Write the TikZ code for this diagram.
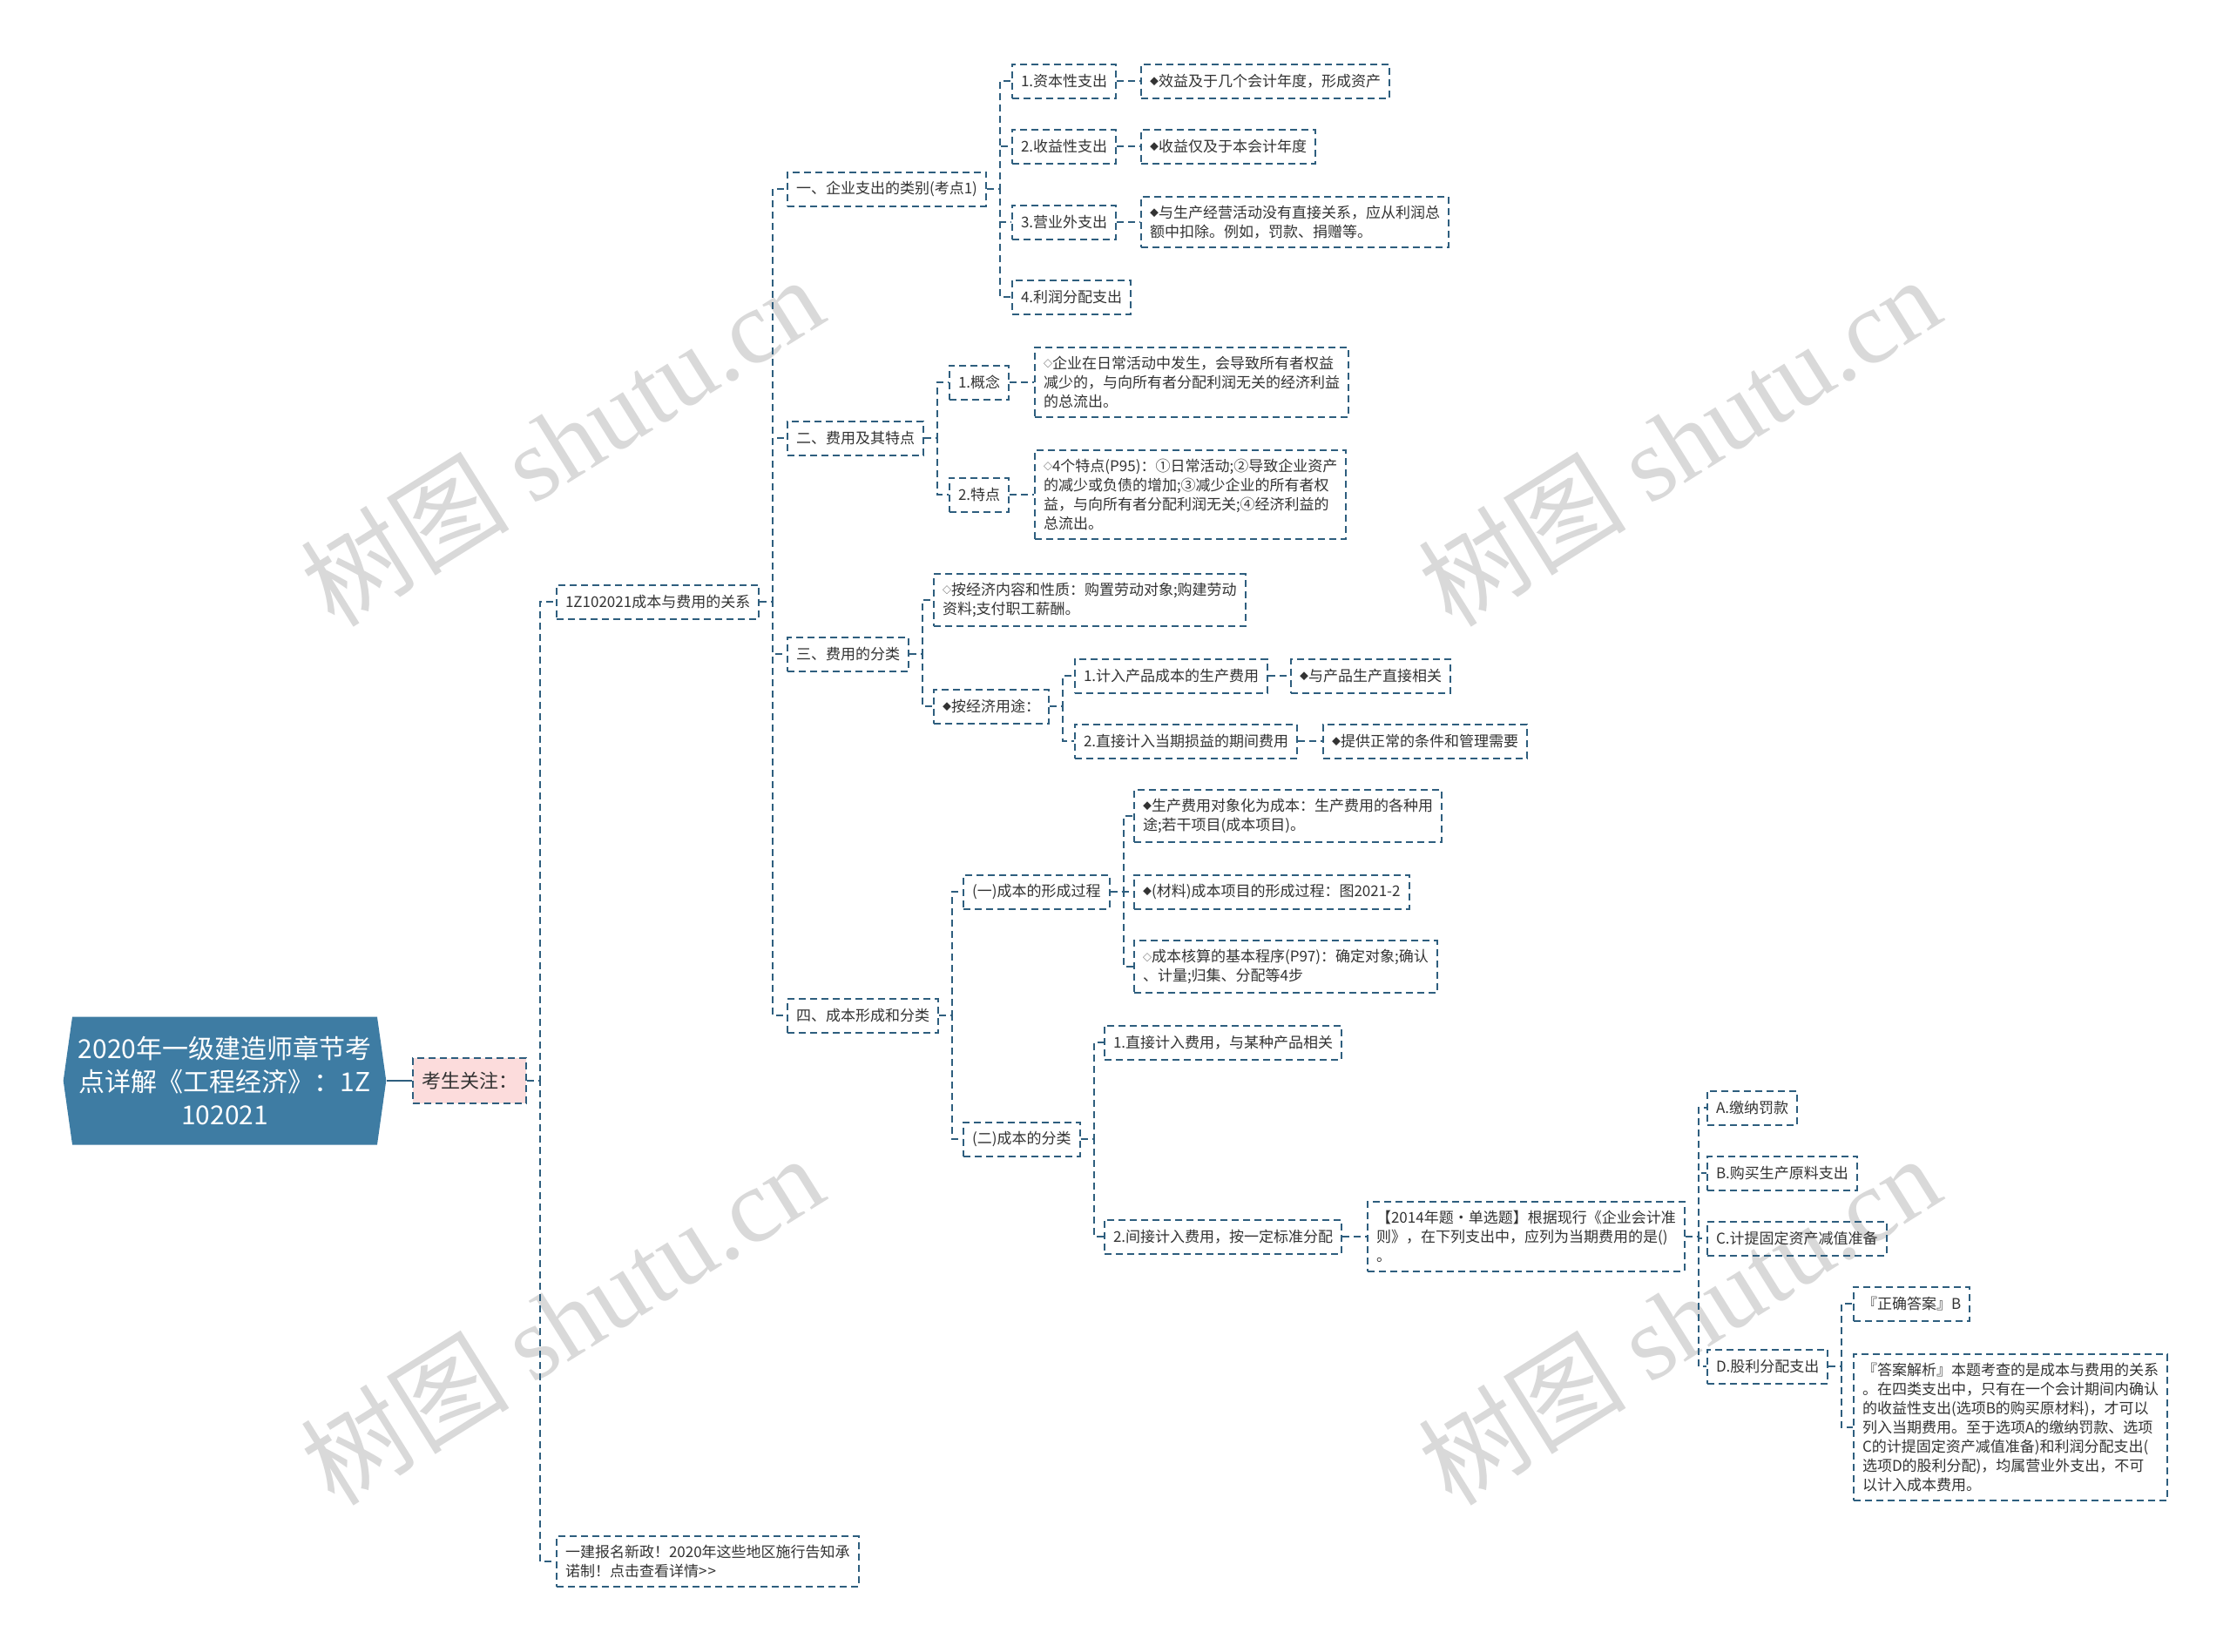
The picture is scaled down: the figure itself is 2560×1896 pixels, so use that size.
\documentclass[tikz,border=0pt]{standalone}
\usepackage{fontspec}
\setmainfont{Noto Sans CJK SC}
\newfontfamily\wmfont{Liberation Serif}
\usetikzlibrary{shapes.symbols}
\definecolor{cline}{HTML}{2E5E7E}
\definecolor{ctext}{HTML}{333333}
\definecolor{croot}{HTML}{3E7CA3}
\definecolor{cpink}{HTML}{FCDCDC}
\definecolor{cmark}{HTML}{D9D9D9}
\newcommand\dfill{\raisebox{0.8pt}{\fontsize{5}{5}\selectfont ◆}}
\newcommand\dopen{\raisebox{0.8pt}{\fontsize{5}{5}\selectfont ◇}}
\tikzset{
  every picture/.style={x=0.5pt, y=-0.5pt, line width=1pt},
  box/.style={draw=cline, dash pattern=on 4pt off 2.5pt, anchor=west, align=left, text=ctext,
    inner xsep=5pt, inner ysep=5pt, minimum height=19.5pt, font=\fontsize{8.5}{11}\selectfont},
  link/.style={draw=cline, dash pattern=on 4pt off 2.5pt},
  root/.style={shape=signal, signal to=west and east, signal pointer angle=164, fill=croot,
    text=white, align=center, minimum width=180pt, minimum height=73.5pt, font=\fontsize{15}{19}\selectfont},
  wmark/.style={text=cmark, rotate=32, font=\fontsize{60}{60}\selectfont},
}
\begin{document}
\begin{tikzpicture}
  \useasboundingbox (0,0) rectangle (2560,1896);
  \fill[white] (0,0) rectangle (2560,1896);
  % watermarks
  \foreach \wx/\wy [count=\i] in {645/506, 1927/506, 645/1515, 1927/1515}
    \node[wmark] (wm\i) at (\wx,\wy) {树图 {\wmfont shutu.cn}};
  % root and first level
  \node[root] (root) at (258,1241) {2020年一级建造师章节考\\点详解《工程经济》：1Z\\102021};
  \node[box, fill=cpink, minimum height=26pt, font=\fontsize{11}{13}\selectfont] (n0) at (473,1241) {考生关注：};
  \node[box] (m1) at (638,691) {1Z102021成本与费用的关系};
  \node[box] (m2) at (638,1793) {一建报名新政！2020年这些地区施行告知承\\诺制！点击查看详情>\kern0.6pt>};
  % four sections
  \node[box] (a1) at (903,217) {一、企业支出的类别(考点1)};
  \node[box] (a2) at (903,503) {二、费用及其特点};
  \node[box] (a3) at (903,751) {三、费用的分类};
  \node[box] (a4) at (903,1166) {四、成本形成和分类};
  % section one
  \node[box] (a11) at (1161,93) {1.资本性支出};
  \node[box] (a12) at (1161,168) {2.收益性支出};
  \node[box] (a13) at (1161,255) {3.营业外支出};
  \node[box] (a14) at (1161,341) {4.利润分配支出};
  \node[box] (l11) at (1309,93) {\dfill 效益及于几个会计年度，形成资产};
  \node[box] (l12) at (1309,168) {\dfill 收益仅及于本会计年度};
  \node[box] (l13) at (1309,255) {\dfill 与生产经营活动没有直接关系，应从利润总\\额中扣除。例如，罚款、捐赠等。};
  % section two
  \node[box] (a21) at (1089,439) {1.概念};
  \node[box] (a22) at (1089,568) {2.特点};
  \node[box] (l21) at (1187,439) {\dopen 企业在日常活动中发生，会导致所有者权益\\减少的，与向所有者分配利润无关的经济利益\\的总流出。};
  \node[box] (l22) at (1187,568) {\dopen 4个特点(P95)：①日常活动;②导致企业资产\\的减少或负债的增加;③减少企业的所有者权\\益，与向所有者分配利润无关;④经济利益的\\总流出。};
  % section three
  \node[box] (a31) at (1071,689) {\dopen 按经济内容和性质：购置劳动对象;购建劳动\\资料;支付职工薪酬。};
  \node[box] (a32) at (1071,811) {\dfill 按经济用途：};
  \node[box] (a321) at (1233,776) {1.计入产品成本的生产费用};
  \node[box] (a322) at (1233,851) {2.直接计入当期损益的期间费用};
  \node[box] (l321) at (1481,776) {\dfill 与产品生产直接相关};
  \node[box] (l322) at (1518,851) {\dfill 提供正常的条件和管理需要};
  % section four
  \node[box] (a41) at (1105,1024) {(一)成本的形成过程};
  \node[box] (a42) at (1105,1308) {(二)成本的分类};
  \node[box] (a411) at (1301,937) {\dfill 生产费用对象化为成本：生产费用的各种用\\途;若干项目(成本项目)。};
  \node[box] (a412) at (1301,1024) {\dfill (材料)成本项目的形成过程：图2021-2};
  \node[box] (a413) at (1301,1110) {\dopen 成本核算的基本程序(P97)：确定对象;确认\\、计量;归集、分配等4步};
  \node[box] (a421) at (1267,1197) {1.直接计入费用，与某种产品相关};
  \node[box] (a422) at (1267,1420) {2.间接计入费用，按一定标准分配};
  % exam question
  \node[box] (q) at (1569,1420) {【2014年题·单选题】根据现行《企业会计准\\则》，在下列支出中，应列为当期费用的是()\\。};
  \node[box] (qa) at (1959,1272) {A.缴纳罚款};
  \node[box] (qb) at (1959,1347) {B.购买生产原料支出};
  \node[box] (qc) at (1959,1422) {C.计提固定资产减值准备};
  \node[box] (qd) at (1959,1569) {D.股利分配支出};
  \node[box] (qd1) at (2127,1497) {『正确答案』B};
  \node[box] (qd2) at (2127,1639) {『答案解析』本题考查的是成本与费用的关系\\。在四类支出中，只有在一个会计期间内确认\\的收益性支出(选项B的购买原材料)，才可以\\列入当期费用。至于选项A的缴纳罚款、选项\\C的计提固定资产减值准备)和利润分配支出(\\选项D的股利分配)，均属营业外支出，不可\\以计入成本费用。};
  % connectors
  \draw[cline, line width=1.4pt] (root.east) -- (n0.west);
  \foreach \p/\cs in {n0/{m1,m2}, m1/{a1,a2,a3,a4}, a1/{a11,a12,a13,a14}, a11/{l11}, a12/{l12}, a13/{l13},
      a2/{a21,a22}, a21/{l21}, a22/{l22}, a3/{a31,a32}, a32/{a321,a322}, a321/{l321}, a322/{l322},
      a4/{a41,a42}, a41/{a411,a412,a413}, a42/{a421,a422}, a422/{q}, q/{qa,qb,qc,qd}, qd/{qd1,qd2}}
    \foreach \c in \cs
      \draw[link] (\p.east) -- ++(15,0) |- (\c.west);
\end{tikzpicture}
\end{document}
